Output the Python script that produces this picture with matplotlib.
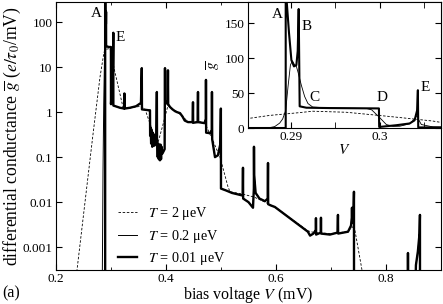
import matplotlib
matplotlib.use("Agg")
import matplotlib.pyplot as plt
from matplotlib.ticker import MultipleLocator

plt.rcParams["font.family"] = ["Liberation Serif", "DejaVu Serif"]
plt.rcParams["mathtext.fontset"] = "stix"

# main panel, T = 0.01 ueV (thick)
main_thick_v = [0.2000, 0.2894, 0.2894, 0.2898, 0.2903, 0.2908, 0.2910, 0.2911, 0.2920, 0.2960,
                0.2999, 0.3000, 0.3020, 0.3035, 0.3042, 0.3043, 0.3073, 0.3164, 0.3240, 0.3244,
                0.3248, 0.3345, 0.3455, 0.3545, 0.3560, 0.3563, 0.3690, 0.3709, 0.3712, 0.3722,
                0.3730, 0.3740, 0.3750, 0.3760, 0.3770, 0.3780, 0.3790, 0.3800, 0.3810, 0.3825,
                0.3834, 0.3837, 0.3850, 0.3860, 0.3870, 0.3880, 0.3890, 0.3900, 0.3910, 0.3920,
                0.3935, 0.3975, 0.3982, 0.3985, 0.4030, 0.4036, 0.4040, 0.4073, 0.4120, 0.4164,
                0.4200, 0.4255, 0.4300, 0.4340, 0.4400, 0.4485, 0.4491, 0.4494, 0.4576, 0.4582,
                0.4585, 0.4700, 0.4725, 0.4727, 0.4730, 0.4800, 0.4833, 0.4836, 0.4840, 0.4891,
                0.4945, 0.4990, 0.4998, 0.5000, 0.5100, 0.5200, 0.5395, 0.5400, 0.5403, 0.5500,
                0.5582, 0.5598, 0.5600, 0.5603, 0.5630, 0.5700, 0.5800, 0.5850, 0.5855, 0.5858,
                0.5900, 0.5980, 0.6580, 0.6620, 0.6680, 0.6725, 0.6727, 0.6730, 0.6815, 0.6818,
                0.6821, 0.6980, 0.7120, 0.7127, 0.7130, 0.7310, 0.7364, 0.7380, 0.7382, 0.7385,
                0.7410, 0.7418, 0.7420, 0.8400, 0.8400, 0.8402, 0.8490, 0.8545, 0.8580, 0.8610,
                0.8618, 0.8620, 0.9000]
main_thick_g = [1e-6, 1e-6, 1e3, 140, 88, 92, 170, 31, 29, 28,
                28, 1.5, 4, 8, 58, 1.4, 1.36, 1.25, 1.2, 2.6,
                1.2, 1.25, 1.35, 1.6, 9.5, 1.15, 1.1, 1.1, 0.3, 0.45,
                0.2, 0.4, 0.17, 0.35, 0.2, 0.32, 0.18, 0.3, 0.2, 0.28,
                2.8, 0.22, 0.1, 0.2, 0.09, 0.18, 0.085, 0.19, 0.09, 0.17,
                0.12, 0.15, 9.5, 1.8, 1.5, 8.5, 1.5, 1.3, 1.15, 1.05,
                1.0, 0.95, 0.8, 0.65, 0.6, 0.6, 1.66, 0.58, 0.6, 2.8,
                0.6, 0.57, 0.7, 5.2, 0.35, 0.34, 0.4, 2.8, 0.25, 0.1,
                0.11, 0.2, 1.2, 0.02, 0.018, 0.016, 0.014, 0.058, 0.012, 0.01,
                0.0075, 0.02, 0.17, 0.04, 0.016, 0.012, 0.0105, 0.012, 0.074, 0.009,
                0.0085, 0.0078, 0.0022, 0.0018, 0.002, 0.0024, 0.0044, 0.0019, 0.0021, 0.0045,
                0.002, 0.0019, 0.0021, 0.0052, 0.002, 0.0022, 0.003, 0.0045, 0.0075, 0.0035,
                0.005, 0.017, 1e-6, 1e-6, 0.00074, 1e-6, 1e-6, 0.0004, 0.0008, 0.002,
                0.0052, 1e-6, 1e-6]

# main panel, T = 0.2 ueV (thin): own onset, then same as thick
main_thin_onset_v = [0.2000, 0.2842, 0.2855, 0.2868, 0.2880, 0.2890, 0.2898]
main_thin_onset_g = [1e-6, 2e-4, 0.05, 1.5, 12, 60, 96]

# main panel, T = 2 ueV (dashed)
main_dash_v = [0.2360, 0.2382, 0.2667, 0.2800, 0.2873, 0.2915, 0.2982, 0.3069, 0.3224, 0.3300,
               0.3450, 0.3550, 0.3620, 0.3700, 0.3800, 0.3855, 0.3940, 0.4036, 0.4100, 0.4200,
               0.4300, 0.4400, 0.4600, 0.4720, 0.4745, 0.4836, 0.4982, 0.5127, 0.5164, 0.5400,
               0.5600, 0.5800, 0.6000, 0.6580, 0.6700, 0.7000, 0.7300, 0.7420, 0.7440, 0.7564,
               0.7600]
main_dash_g = [1.5e-4, 3.1e-4, 0.28, 6, 21.5, 25, 26, 8, 1.2, 1.2,
               1.3, 1.35, 1.15, 0.6, 0.27, 0.21, 0.5, 1.4, 1.2, 1.02,
               0.8, 0.62, 0.62, 0.55, 0.45, 0.26, 0.1, 0.022, 0.017, 0.015,
               0.013, 0.01, 0.0075, 0.0023, 0.0021, 0.002, 0.0022, 0.003, 0.0022, 3.1e-4,
               1e-4]

# inset (linear scale)
ins_thick_v = [0.2850, 0.28944, 0.28944, 0.28981, 0.29008, 0.29037, 0.29064, 0.29079, 0.29090,
               0.29101, 0.29176, 0.29438, 0.29992, 0.29995, 0.30188, 0.30337, 0.30393, 0.30421,
               0.30430, 0.30434, 0.30700]
ins_thick_g = [0, 0, 200, 136, 97, 88, 90, 110, 170,
               31, 29, 28.5, 28, 1.5, 4, 6.5, 11, 25,
               54, 0.8, 1.0]

ins_thin_v = [0.2850, 0.28742, 0.2882, 0.28876, 0.2891, 0.28944, 0.2897, 0.28997, 0.29019,
              0.29045, 0.29064, 0.29082, 0.2912, 0.29157, 0.29194, 0.29247, 0.29438, 0.2985,
              0.2991, 0.29992, 0.30075, 0.3015, 0.30225, 0.30337, 0.30393, 0.30420, 0.30438,
              0.30469, 0.3060, 0.3070]
ins_thin_g = [0, 0, 2, 7, 13, 25, 59, 90, 96,
              90, 88, 80, 61, 45, 35, 30, 28.5, 28,
              26, 16, 5, 2.4, 2.5, 6, 13, 18, 12,
              5, 1.5, 1]

ins_dash_v = [0.2850, 0.28764, 0.29101, 0.29247, 0.29626, 0.29992, 0.30225, 0.30596, 0.3070]
ins_dash_g = [13.2, 18, 22, 24, 22.5, 18, 15, 10, 7.8]

main_yticks = [0.001, 0.01, 0.1, 1, 10, 100]
main_ytick_labels = ["0.001", "0.01", "0.1", "1", "10", "100"]
legend_labels = ["$T$ = 2 \u03bceV", "$T$ = 0.2 \u03bceV", "$T$ = 0.01 \u03bceV"]

fig = plt.figure(figsize=(4.43, 3.04), dpi=100)
ax = fig.add_axes([0.1264, 0.1118, 0.869, 0.8816])

thin_v = main_thin_onset_v + main_thick_v[4:]
thin_g = main_thin_onset_g + main_thick_g[4:]
l_dash, = ax.plot(main_dash_v, main_dash_g, color="k", lw=0.6, ls=(0, (3, 2)))
l_thin, = ax.plot(thin_v, thin_g, color="k", lw=0.7)
l_thick, = ax.plot(main_thick_v, main_thick_g, color="k", lw=1.7)

ax.set_yscale("log")
ax.set_xlim(0.2, 0.9)
ax.set_ylim(3.1e-4, 280)
ax.set_yticks(main_yticks)
ax.set_yticklabels(main_ytick_labels)
ax.yaxis.set_minor_locator(plt.NullLocator())
ax.xaxis.set_major_locator(MultipleLocator(0.2))
ax.xaxis.set_minor_locator(MultipleLocator(0.1))
ax.tick_params(which="both", direction="in", top=True, right=True, labelsize=9.5, pad=2.5)
ax.tick_params(which="major", length=4)
ax.tick_params(which="minor", length=2.5)
ax.set_xlabel(r"bias voltage $V$ (mV)", fontsize=11.5, labelpad=0)
ax.set_ylabel(r"differential conductance $\overline{g}$ ($e/\tau_0$/mV)", fontsize=12.7, labelpad=0)

ax.text(0.2727, 158, "A", fontsize=11, ha="center", va="center")
ax.text(0.3164, 46, "E", fontsize=11, ha="center", va="center")
fig.text(0.004, 0.036, "(a)", fontsize=11.5, ha="left", va="center")

ax.legend([l_dash, l_thin, l_thick], legend_labels, loc="lower left",
          bbox_to_anchor=(0.161, 0.012), frameon=False, fontsize=10.3,
          handlelength=1.33, handletextpad=0.77, labelspacing=0.36,
          borderpad=0, borderaxespad=0)

# inset
ins = fig.add_axes([0.5598, 0.5789, 0.4357, 0.4145])
ins.set_facecolor("white")
ins.plot(ins_dash_v, ins_dash_g, color="k", lw=0.6, ls=(0, (3, 2)))
ins.plot(ins_thin_v, ins_thin_g, color="k", lw=0.6)
ins.plot(ins_thick_v, ins_thick_g, color="k", lw=1.5)
ins.set_xlim(0.2852, 0.3069)
ins.set_ylim(0, 180)
ins.xaxis.set_major_locator(MultipleLocator(0.01))
ins.xaxis.set_minor_locator(MultipleLocator(0.005))
ins.yaxis.set_major_locator(MultipleLocator(50))
ins.xaxis.set_major_formatter(plt.FuncFormatter(lambda x, p: f"{x:g}"))
ins.tick_params(which="both", direction="in", top=True, right=True, labelsize=9.5, pad=2.5)
ins.tick_params(which="both", length=4)
ins.set_xlabel(r"$V$", fontsize=11, labelpad=0)
ins.set_ylabel(r"$\overline{g}$", fontsize=11, labelpad=1)

ins.text(0.28854, 162, "A", fontsize=11, ha="center", va="center")
ins.text(0.2918, 145, "B", fontsize=11, ha="center", va="center")
ins.text(0.2927, 44, "C", fontsize=11, ha="center", va="center")
ins.text(0.30022, 43, "D", fontsize=11, ha="center", va="center")
ins.text(0.30517, 58, "E", fontsize=11, ha="center", va="center")

fig.savefig("out.png", dpi=100)
